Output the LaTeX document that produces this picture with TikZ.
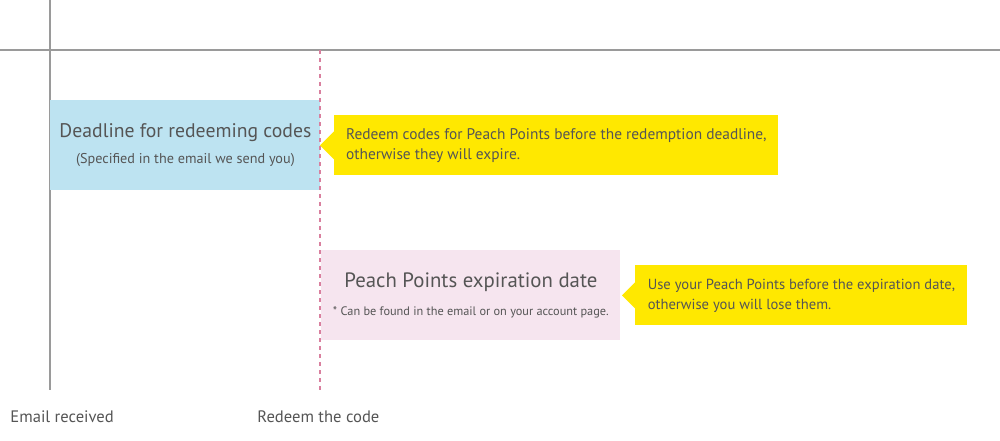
\documentclass[tikz,border=0pt]{standalone}
\usepackage{fontspec}
\setmainfont{PT Sans}
\usetikzlibrary{calc,positioning}
\definecolor{axisgray}{HTML}{9A9A9A}
\definecolor{dashpink}{HTML}{D9809F}
\definecolor{boxblue}{HTML}{BDE3F1}
\definecolor{boxpink}{HTML}{F6E5EF}
\definecolor{noteyellow}{HTML}{FFE800}
\definecolor{inkgray}{HTML}{555555}
\tikzset{
  axisline/.style={draw=axisgray, line width=0.8pt},
  redeemline/.style={draw=dashpink, line width=0.8pt, dash pattern=on 2pt off 2pt},
  datebox/.style={
    anchor=north west,
    inner sep=0pt,
    minimum height=45pt,
    align=center,
    text=inkgray
  },
  notebox/.style={
    anchor=north west,
    fill=noteyellow,
    minimum height=30pt,
    align=left,
    text=inkgray,
    font=\fontsize{7.7}{10}\selectfont
  },
  tiplabel/.style={
    anchor=west,
    text=inkgray,
    inner sep=0pt,
    font=\fontsize{8.3}{10}\selectfont
  }
}

\begin{document}
\begin{tikzpicture}[x=0.5pt,y=-0.5pt]
\useasboundingbox (0,0) rectangle (1000,440);

% time axes
\coordinate (axtop) at (50,0);
\coordinate (axbot) at (50,390);
\coordinate (hzl) at (0,50);
\coordinate (hzr) at (1000,50);
\coordinate (rdtop) at (320,50);
\coordinate (rdbot) at (320,390);
\draw[axisline] (axtop) -- (axbot);
\draw[axisline] (hzl) -- (hzr);

% deadline boxes
\node[datebox, fill=boxblue, minimum width=135pt] (deadline) at (50,100)
  {{\fontsize{9.85}{13}\selectfont Deadline for redeeming codes}\\[1pt]
   {\fontsize{7.1}{9}\selectfont (Specified in the email we send you)}};
\node[datebox, fill=boxpink, minimum width=149.5pt] (expiry) at (321,250)
  {{\fontsize{10.4}{13}\selectfont Peach Points expiration date}\\[2pt]
   {\fontsize{6.15}{8}\selectfont * Can be found in the email or on your account page.}};

\draw[redeemline] (rdtop) -- (rdbot);

% yellow notes
\node[notebox, minimum width=222pt] (redeemnote) at (334,115)
  {Redeem codes for Peach Points before the redemption deadline,\\
   otherwise they will expire.};
\fill[noteyellow] ($(redeemnote.west)+(0,-14)$) -- ($(redeemnote.west)+(-14,0)$)
  -- ($(redeemnote.west)+(0,14)$) -- cycle;

\node[notebox, minimum width=166pt,
  font=\fontsize{7.3}{10}\selectfont] (usenote) at (635,265)
  {Use your Peach Points before the expiration date,\\
   otherwise you will lose them.};
\fill[noteyellow] ($(usenote.west)+(0,-13)$) -- ($(usenote.west)+(-13,0)$)
  -- ($(usenote.west)+(0,13)$) -- cycle;

% axis labels
\node[tiplabel] (received) at (10,417) {Email received};
\node[tiplabel] (redeem) at (257,417) {Redeem the code};
\end{tikzpicture}
\end{document}
